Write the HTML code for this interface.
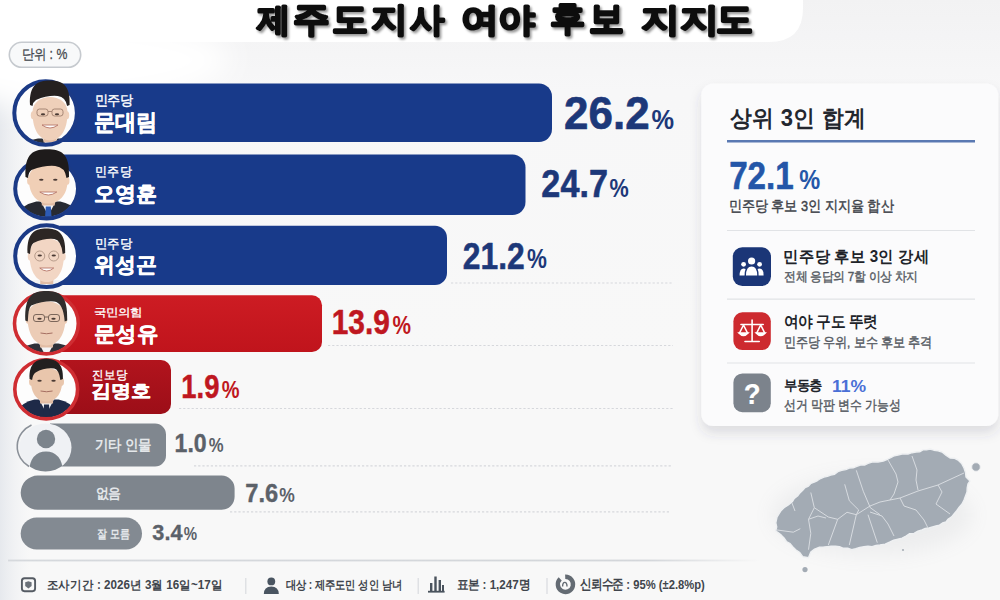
<!DOCTYPE html>
<html><head><meta charset="utf-8">
<style>
*{margin:0;padding:0}
html,body{width:1000px;height:600px;overflow:hidden;background:#f2f2f3}
svg{position:absolute;left:0;top:0;font-family:"Liberation Sans",sans-serif}
</style></head><body>
<svg width="1000" height="600" viewBox="0 0 1000 600">
<defs>
 <linearGradient id="bgv" x1="0" y1="0" x2="0" y2="1">
  <stop offset="0" stop-color="#f2f2f3"/>
  <stop offset="0.15" stop-color="#f7f7f8"/>
  <stop offset="0.6" stop-color="#f8f8f8"/>
  <stop offset="1" stop-color="#f8f8f8"/>
 </linearGradient>
 <linearGradient id="bgl" x1="0" y1="0" x2="1" y2="0">
  <stop offset="0" stop-color="#e4e7ec" stop-opacity="0.9"/>
  <stop offset="0.03" stop-color="#eef0f3" stop-opacity="0"/>
 </linearGradient>
 <radialGradient id="topw" cx="0.5" cy="0" r="0.5">
  <stop offset="0" stop-color="#fff"/>
  <stop offset="0.75" stop-color="#fff"/>
  <stop offset="1" stop-color="#fff" stop-opacity="0"/>
 </radialGradient>
 <filter id="tsh" x="-30%" y="-30%" width="160%" height="160%">
  <feDropShadow dx="1.8" dy="2.2" stdDeviation="0.8" flood-color="#000" flood-opacity="0.4"/>
 </filter>
 <filter id="csh" x="-10%" y="-10%" width="120%" height="125%">
  <feDropShadow dx="0" dy="7" stdDeviation="6" flood-color="#3c4660" flood-opacity="0.15"/>
 </filter>
 <filter id="wblur" x="-50%" y="-100%" width="200%" height="300%"><feGaussianBlur stdDeviation="14"/></filter>
 <filter id="mblur" x="-50%" y="-50%" width="200%" height="200%"><feGaussianBlur stdDeviation="10"/></filter>
 <filter id="msh" x="-20%" y="-20%" width="140%" height="160%">
  <feDropShadow dx="0" dy="6" stdDeviation="5" flood-color="#5a6270" flood-opacity="0.18"/>
 </filter>
 <linearGradient id="gr4" x1="0" y1="0" x2="0" y2="1"><stop offset="0" stop-color="#cd1c23"/><stop offset="1" stop-color="#c0141c"/></linearGradient>
 <linearGradient id="gr5" x1="0" y1="0" x2="0" y2="1"><stop offset="0" stop-color="#b2141d"/><stop offset="1" stop-color="#9c0e18"/></linearGradient>
 <clipPath id="c1"><circle cx="45.6" cy="113" r="30"/></clipPath>
 <clipPath id="c2"><circle cx="46" cy="188.5" r="29.5"/></clipPath>
 <clipPath id="c3"><circle cx="46.2" cy="257" r="29.5"/></clipPath>
 <clipPath id="c4"><circle cx="46.3" cy="323.8" r="29"/></clipPath>
 <clipPath id="c5"><circle cx="46.3" cy="388.6" r="28"/></clipPath>
 <clipPath id="c6"><circle cx="45.5" cy="447.2" r="23.5"/></clipPath>
</defs>

<!-- background -->
<rect x="0" y="0" width="1000" height="600" fill="url(#bgv)"/>
<rect x="0" y="0" width="1000" height="600" fill="url(#bgl)"/>
<ellipse cx="40" cy="60" rx="190" ry="45" fill="#fff" filter="url(#wblur)"/>
<path d="M-10 -10 H803 V8 Q803 42 769 42 H-10 Z" fill="#ffffff"/>

<!-- unit pill -->
<rect x="9.3" y="42.3" width="71.4" height="25" rx="12.5" fill="#f8f9fa" stroke="#c6cacf" stroke-width="1.6"/>

<!-- dashed lines -->
<g stroke="#d6d8dc" stroke-width="1.2" stroke-dasharray="2.2 2">
 <line x1="451" y1="283" x2="673" y2="283"/>
 <line x1="328" y1="345.5" x2="673" y2="345.5"/>
 <line x1="179" y1="408.5" x2="673" y2="408.5"/>
 <line x1="194" y1="465.8" x2="671" y2="465.8"/>
 <line x1="230" y1="511.8" x2="671" y2="511.8"/>
</g>

<!-- bars -->
<path d="M60 83.5 H539 a13 13 0 0 1 13 13 V129 a13 13 0 0 1 -13 13 H60 Z" fill="#183a8a"/>
<path d="M60 154.5 H512.5 a13 13 0 0 1 13 13 V202 a13 13 0 0 1 -13 13 H60 Z" fill="#183a8a"/>
<path d="M60 225.7 H435 a12 12 0 0 1 12 12 V273 a12 12 0 0 1 -12 12 H60 Z" fill="#183a8a"/>
<path d="M60 295.3 H312 a10 10 0 0 1 10 10 V342 a10 10 0 0 1 -10 10 H60 Z" fill="url(#gr4)"/>
<path d="M60 360 H161 a10 10 0 0 1 10 10 V404 a10 10 0 0 1 -10 10 H60 Z" fill="url(#gr5)"/>
<path d="M50 423.5 H155 a11 11 0 0 1 11 11 V455.4 a11 11 0 0 1 -11 11 H50 Z" fill="#80878f"/>
<path d="M37.8 475.6 H221.6 a13 13 0 0 1 13 13 V496.8 a13 13 0 0 1 -13 13 H37.8 a17.1 17.1 0 0 1 0 -34.2 Z" fill="#7e858d"/>
<rect x="20.7" y="517.5" width="121.3" height="32" rx="16" fill="#838a92"/>

<!-- avatars -->
<clipPath id="av1"><ellipse cx="45.6" cy="113" rx="29.799999999999997" ry="30.299999999999997"/></clipPath>
<ellipse cx="45.6" cy="113" rx="30.299999999999997" ry="30.799999999999997" fill="#fdfdfd"/>
<g clip-path="url(#av1)">
<path d="M16.0 146.8 Q20.0 142.5 38.0 138.5 L62.0 138.5 Q80.0 142.5 84.0 146.8 Z" fill="#2b2e36"/>
<path d="M42.0 137.5 L50.0 152.5 L58.0 137.5 Z" fill="#f4f4f6"/>
<rect x="43.5" y="128.5" width="13" height="14" fill="#e2bda5"/>
<path d="M32.5 112.37 C32.5 92 67.5 92 67.5 112.37 C67.5 132.74 58.75 140.5 50.0 140.5 C41.25 140.5 32.5 132.74 32.5 112.37 Z" fill="#efd0ba"/>
<ellipse cx="33.0" cy="115.25" rx="2.2" ry="4" fill="#efd0ba"/><ellipse cx="67.0" cy="115.25" rx="2.2" ry="4" fill="#efd0ba"/>
<g fill="none" stroke="#9e7f6e" stroke-width="0.9"><rect x="37.0" y="109.0" width="11" height="7" rx="2.5"/><rect x="52.0" y="109.0" width="11" height="7" rx="2.5"/><line x1="48.0" y1="111.5" x2="52.0" y2="111.5"/></g>
<g fill="#4a3a34"><ellipse cx="43.0" cy="114.25" rx="2.2" ry="0.9"/><ellipse cx="57.0" cy="114.25" rx="2.2" ry="0.9"/></g>
<path d="M42.0 125 Q50.0 131 58.0 125 Z" fill="#fff" stroke="#b7776a" stroke-width="0.9"/>
</g>
<ellipse cx="45.6" cy="113" rx="31.299999999999997" ry="31.799999999999997" fill="none" stroke="#1b3a86" stroke-width="4"/>
<path d="M30 105 C29 84.5 38 80.5 49.8 80.5 C61.599999999999994 80.5 70.6 84.5 69.6 105 L67.1 106 Q65.6 97 57.8 96 Q47.8 95 36 100 Q33 102 32.5 106 Z" fill="#252120"/>
<clipPath id="av2"><ellipse cx="46.6" cy="188.7" rx="29.9" ry="28.3"/></clipPath>
<ellipse cx="46.6" cy="188.7" rx="30.4" ry="28.8" fill="#fdfdfd"/>
<g clip-path="url(#av2)">
<path d="M14.299999999999997 220.5 Q18.299999999999997 205.5 36.3 201.5 L60.3 201.5 Q78.3 205.5 82.3 220.5 Z" fill="#272a32"/>
<path d="M40.3 200.5 L48.3 215.5 L56.3 200.5 Z" fill="#f4f4f6"/>
<path d="M45.8 206.5 L50.8 206.5 L51.8 220.5 L44.8 220.5 Z" fill="#2d5bb5"/>
<rect x="41.8" y="191.5" width="13" height="14" fill="#e2bda5"/>
<path d="M28.8 178.27 C28.8 160 67.8 160 67.8 178.27 C67.8 196.54000000000002 58.05 203.5 48.3 203.5 C38.55 203.5 28.8 196.54000000000002 28.8 178.27 Z" fill="#f0cfb6"/>
<ellipse cx="29.3" cy="180.75" rx="2.2" ry="4" fill="#f0cfb6"/><ellipse cx="67.3" cy="180.75" rx="2.2" ry="4" fill="#f0cfb6"/>
<g fill="#4a3a34"><ellipse cx="41.3" cy="179.75" rx="2.2" ry="0.9"/><ellipse cx="55.3" cy="179.75" rx="2.2" ry="0.9"/></g>
<path d="M39.8 192 Q48.3 198 56.8 192 Z" fill="#fff" stroke="#b7776a" stroke-width="0.9"/>
</g>
<ellipse cx="46.6" cy="188.7" rx="31.4" ry="29.8" fill="none" stroke="#1b3a86" stroke-width="4"/>
<path d="M25.5 177 C24.5 153.3 33.5 149.3 47.25 149.3 C61 149.3 70 153.3 69 177 L66.5 178 Q65 167 55.25 166 Q45.25 165 31.5 170 Q28.5 172 28.0 178 Z" fill="#1e1b1b"/>
<clipPath id="av3"><ellipse cx="46.6" cy="256.2" rx="29.9" ry="29.4"/></clipPath>
<ellipse cx="46.6" cy="256.2" rx="30.4" ry="29.9" fill="#fdfdfd"/>
<g clip-path="url(#av3)">
<path d="M12.75 289.09999999999997 Q16.75 284 34.75 280 L58.75 280 Q76.75 284 80.75 289.09999999999997 Z" fill="#f2f2f3"/>
<rect x="40.25" y="270" width="13" height="14" fill="#e2bda5"/>
<path d="M29.5 253.57999999999998 C29.5 233 64 233 64 253.57999999999998 C64 274.15999999999997 55.375 282 46.75 282 C38.125 282 29.5 274.15999999999997 29.5 253.57999999999998 Z" fill="#f2d6c4"/>
<ellipse cx="30.0" cy="256.5" rx="2.2" ry="4" fill="#f2d6c4"/><ellipse cx="63.5" cy="256.5" rx="2.2" ry="4" fill="#f2d6c4"/>
<g fill="none" stroke="#b09585" stroke-width="0.9"><circle cx="39.75" cy="256" r="5"/><circle cx="53.75" cy="256" r="5"/></g>
<g fill="#4a3a34"><ellipse cx="39.75" cy="255.5" rx="2.2" ry="0.9"/><ellipse cx="53.75" cy="255.5" rx="2.2" ry="0.9"/></g>
<path d="M39.75 268 Q46.75 274 53.75 268 Z" fill="#fff" stroke="#b7776a" stroke-width="0.9"/>
</g>
<ellipse cx="46.6" cy="256.2" rx="31.4" ry="30.9" fill="none" stroke="#1b3a86" stroke-width="4"/>
<path d="M27.5 253 C26.5 232.4 35.5 228.4 46.35 228.4 C57.2 228.4 66.2 232.4 65.2 253 L62.7 254 Q61.2 240 54.35 239 Q44.35 238 33.5 243 Q30.5 245 30.0 254 Z" fill="#2c2624"/>
<clipPath id="av4"><ellipse cx="46.4" cy="323.5" rx="30.6" ry="29.1"/></clipPath>
<ellipse cx="46.4" cy="323.5" rx="31.1" ry="29.6" fill="#fdfdfd"/>
<g clip-path="url(#av4)">
<path d="M12.5 356.1 Q16.5 347.5 34.5 343.5 L58.5 343.5 Q76.5 347.5 80.5 356.1 Z" fill="#2f3139"/>
<path d="M38.5 342.5 L46.5 357.5 L54.5 342.5 Z" fill="#f4f4f6"/>
<rect x="40.0" y="333.5" width="13" height="14" fill="#e2bda5"/>
<path d="M27.5 316.79 C27.5 296 65.5 296 65.5 316.79 C65.5 337.58000000000004 56.0 345.5 46.5 345.5 C37.0 345.5 27.5 337.58000000000004 27.5 316.79 Z" fill="#ecccb6"/>
<ellipse cx="28.0" cy="319.75" rx="2.2" ry="4" fill="#ecccb6"/><ellipse cx="65.0" cy="319.75" rx="2.2" ry="4" fill="#ecccb6"/>
<g fill="none" stroke="#6f5b50" stroke-width="0.9"><rect x="33.5" y="314.5" width="11" height="7" rx="2.5"/><rect x="48.5" y="314.5" width="11" height="7" rx="2.5"/><line x1="44.5" y1="317" x2="48.5" y2="317"/></g>
<g fill="#4a3a34"><ellipse cx="39.5" cy="318.75" rx="2.2" ry="0.9"/><ellipse cx="53.5" cy="318.75" rx="2.2" ry="0.9"/></g>
<path d="M40.5 333 Q46.5 334.5 52.5 333" fill="none" stroke="#a56f62" stroke-width="1"/>
</g>
<ellipse cx="46.4" cy="323.5" rx="31.900000000000002" ry="30.400000000000002" fill="none" stroke="#cf2d32" stroke-width="3.6"/>
<path d="M25.3 320.5 C24.3 295 33.3 291 46.25 291 C59.2 291 68.2 295 67.2 320.5 L64.7 321.5 Q63.2 302.5 54.25 301.5 Q44.25 300.5 31.3 305.5 Q28.3 307.5 27.8 321.5 Z" fill="#302d2c"/>
<clipPath id="av5"><ellipse cx="46.2" cy="389.3" rx="30.1" ry="28.299999999999997"/></clipPath>
<ellipse cx="46.2" cy="389.3" rx="30.6" ry="28.799999999999997" fill="#fdfdfd"/>
<g clip-path="url(#av5)">
<path d="M12.549999999999997 421.1 Q16.549999999999997 403.5 34.55 399.5 L58.55 399.5 Q76.55 403.5 80.55 421.1 Z" fill="#1e2a48"/>
<path d="M38.55 398.5 L46.55 413.5 L54.55 398.5 Z" fill="#f4f4f6"/>
<path d="M44.05 404.5 L49.05 404.5 L50.05 421.1 L43.05 421.1 Z" fill="#1e2a48"/>
<rect x="40.05" y="389.5" width="13" height="14" fill="#e2bda5"/>
<path d="M30.8 379.75 C30.8 364 62.3 364 62.3 379.75 C62.3 395.5 54.425 401.5 46.55 401.5 C38.675 401.5 30.8 395.5 30.8 379.75 Z" fill="#e9c6ac"/>
<ellipse cx="31.3" cy="381.75" rx="2.2" ry="4" fill="#e9c6ac"/><ellipse cx="61.8" cy="381.75" rx="2.2" ry="4" fill="#e9c6ac"/>
<g fill="#4a3a34"><ellipse cx="39.55" cy="380.75" rx="2.2" ry="0.9"/><ellipse cx="53.55" cy="380.75" rx="2.2" ry="0.9"/></g>
<path d="M40.55 391 Q46.55 392.5 52.55 391" fill="none" stroke="#a56f62" stroke-width="1"/>
</g>
<ellipse cx="46.2" cy="389.3" rx="31.400000000000002" ry="29.599999999999998" fill="none" stroke="#cf2d32" stroke-width="3.6"/>
<path d="M29.6 379 C28.6 362.8 37.6 358.8 46.25 358.8 C54.9 358.8 63.9 362.8 62.9 379 L60.4 380 Q58.9 369.5 54.25 368.5 Q44.25 367.5 35.6 372.5 Q32.6 374.5 32.1 380 Z" fill="#222020"/>
<ellipse cx="45.5" cy="447.5" rx="26" ry="24" fill="#eff1f4"/>
<path d="M31.5 425 A26 24 0 0 0 29 466.5" fill="none" stroke="#8b9199" stroke-width="1.6"/>
<clipPath id="av6"><ellipse cx="45.5" cy="447.5" rx="26" ry="24"/></clipPath>
<g clip-path="url(#av6)" fill="#7c848c">
 <circle cx="46" cy="439" r="9.2"/>
 <path d="M28.5 475 Q29.5 451.5 46 451.5 Q62.5 451.5 63.5 475 Z"/>
</g>
<!-- card -->
<rect x="701.3" y="83.5" width="297" height="342.5" rx="12" fill="#fbfbfc" filter="url(#csh)"/>
<line x1="727" y1="141.3" x2="975" y2="141.3" stroke="#5a79b2" stroke-width="2.4"/>
<g stroke="#e1e3e6" stroke-width="1.2">
 <line x1="727" y1="230.5" x2="975" y2="230.5"/>
 <line x1="727" y1="299.2" x2="975" y2="299.2"/>
 <line x1="727" y1="363" x2="975" y2="363"/>
</g>
<rect x="732.8" y="247.2" width="38.2" height="38.8" rx="9.5" fill="#1b3677"/>
<g fill="#fff">
 <circle cx="751.6" cy="261" r="3.6"/>
 <circle cx="743.6" cy="264.3" r="2.4"/>
 <circle cx="759.6" cy="264.3" r="2.4"/>
 <path d="M746 275.6 Q746 266.6 751.6 266.6 Q757.2 266.6 757.2 275.6 Z"/>
 <path d="M739.6 275.6 Q739.6 268.4 743.6 268.4 Q745 268.4 745.6 269 Q744.6 271 744.6 275.6 Z"/>
 <path d="M763.6 275.6 Q763.6 268.4 759.6 268.4 Q758.2 268.4 757.6 269 Q758.6 271 758.6 275.6 Z"/>
</g>
<rect x="733.4" y="312.3" width="37.4" height="37.8" rx="9" fill="#cd2a2f"/>
<g stroke="#fff" stroke-width="1.6" fill="none" stroke-linecap="round">
 <line x1="752.1" y1="320" x2="752.1" y2="341"/>
 <line x1="741" y1="324.5" x2="763.2" y2="324.5"/>
 <line x1="745" y1="341.5" x2="759.2" y2="341.5"/>
 <path d="M743.5 325 L739.5 333 M743.5 325 L747.5 333"/>
 <path d="M760.7 325 L756.7 333 M760.7 325 L764.7 333"/>
 <path d="M739 333 Q743.5 338 748 333 Z" fill="#fff"/>
 <path d="M756.2 333 Q760.7 338 765.2 333 Z" fill="#fff"/>
</g>
<rect x="733.4" y="373.4" width="37.4" height="38.8" rx="9" fill="#7c838c"/>

<!-- map -->
<ellipse cx="872" cy="515" rx="100" ry="40" fill="#8a9099" opacity="0.10" filter="url(#mblur)"/>
<path d="M775.8 522.8 L777.0 517.0 L779.1 513.7 L781.2 510.4 L784.0 507.7 L788.3 505.0 L792.2 501.8 L794.3 498.4 L797.5 496.0 L799.9 492.9 L802.7 490.2 L805.1 487.5 L808.5 486.1 L810.9 483.4 L814.3 482.0 L817.5 480.5 L820.6 478.5 L823.9 477.1 L827.4 476.3 L830.7 475.0 L834.6 474.2 L837.9 471.6 L841.7 470.3 L845.7 469.6 L849.3 468.0 L853.2 467.8 L856.8 466.3 L860.5 465.0 L864.5 465.1 L868.0 463.3 L872.9 461.8 L878.0 462.0 L883.2 461.1 L888.0 459.0 L891.2 457.3 L894.4 455.7 L898.0 455.0 L902.9 453.8 L908.0 454.0 L911.9 452.7 L916.0 452.0 L919.6 451.8 L922.9 449.9 L926.5 449.9 L930.0 449.0 L933.9 450.2 L938.1 450.8 L942.0 452.0 L945.9 455.1 L950.0 458.0 L954.2 458.2 L958.0 460.0 L961.6 463.5 L964.0 468.0 L965.5 472.4 L966.0 477.0 L970.0 481.0 L968.0 484.0 L967.2 488.0 L967.0 492.0 L965.5 496.1 L964.0 500.1 L962.0 504.0 L959.2 507.2 L956.7 510.7 L954.0 514.0 L951.6 516.9 L948.3 519.0 L946.0 522.0 L942.5 523.0 L939.5 525.1 L936.0 526.0 L932.5 526.9 L929.0 528.0 L925.3 528.4 L922.0 530.0 L917.9 531.1 L914.1 533.4 L909.7 533.7 L906.0 536.0 L902.2 538.1 L898.1 539.1 L893.8 540.1 L890.0 542.0 L885.2 544.1 L880.0 545.0 L876.0 545.4 L872.1 546.6 L868.0 546.2 L863.9 546.8 L859.8 547.5 L855.7 548.7 L851.7 549.7 L847.7 548.2 L843.4 548.3 L839.5 546.7 L835.3 546.2 L831.2 546.3 L827.1 546.6 L823.1 547.1 L819.0 547.3 L814.6 549.1 L810.8 552.0 L808.5 557.8 L802.7 556.7 L799.8 552.6 L795.7 549.7 L792.7 546.8 L790.1 543.6 L786.4 541.5 L784.0 538.0 L781.5 535.4 L778.7 533.1 L775.8 531.0 L776.7 526.9 Z" fill="#a3abb4" stroke="#eef0f2" stroke-width="1.4" stroke-linejoin="round"/>
<circle cx="976" cy="467" r="4.3" fill="#a3abb4" stroke="#eef0f2" stroke-width="1"/>
<circle cx="805" cy="569.6" r="2.6" fill="#a3abb4"/>
<circle cx="903" cy="550" r="1.1" fill="#a9b0b7"/>
<path d="M810.8 492.5 L814.3 507.7 L808.5 519.3 L810.8 533.3 L808.5 549.7 M814.3 507.7 L828.3 517 L837.7 519.3 L847 512.3 L856.3 514.7 L870 506 L880 502 L890 500 L900 498 L918 491 L938 485 L964 473 M808.5 519.3 L818 516 L826 518 M837.7 519.3 L828.3 545 M844.7 484.3 L849.3 500.7 L858.7 510 L856.3 514.7 M856.3 470.3 L863.3 491.3 L870.3 507.7 L880 514.7 M856.3 514.7 L849.3 545 M868 514.7 L877.3 542.7 M775.8 529.8 L793.3 532.2 L800.3 528.7 M888 460 L896 474 L898 482 L894 494 L890 500 M912 456 L917 470 L916 480 L918 490 M938 485 L942 492 L936 504 L950 514 M900 498 L904 506 L916 510 L924 520 L928 528 M870 512 L882 516 L888 524 L894 536 M792 503 L795 511" fill="none" stroke="#dde0e4" stroke-width="0.9" stroke-linejoin="round"/>
<!-- footer -->
<rect x="8" y="559.6" width="752" height="1.8" fill="url(#fl)"/>
<defs><linearGradient id="fl" x1="0" y1="0" x2="1" y2="0"><stop offset="0" stop-color="#d6d9dd"/><stop offset="0.85" stop-color="#d3d6da"/><stop offset="1" stop-color="#d3d6da" stop-opacity="0"/></linearGradient></defs>
<g stroke="#d9dbdf" stroke-width="1.2">
 <line x1="245.8" y1="578" x2="245.8" y2="594"/>
 <line x1="418.2" y1="578" x2="418.2" y2="594"/>
 <line x1="547" y1="578" x2="547" y2="594"/>
</g>
<rect x="21.9" y="578.3" width="13.2" height="12.9" rx="2.6" fill="none" stroke="#555b63" stroke-width="1.9"/>
<path d="M25.2 582.3 L28.4 581.2 L31.6 582.3 L31.6 586 L28.4 588.4 L25.2 586 Z" fill="#6b7179"/>
<g fill="#4a5561">
 <circle cx="271.3" cy="581.4" r="3.9"/>
 <path d="M263.8 594 Q264 586.5 271.3 586.5 Q278.6 586.5 278.8 594 Z"/>
</g>
<g fill="#4a535d">
 <rect x="428" y="590.8" width="16.6" height="1.8"/>
 <rect x="430" y="583" width="2.4" height="8"/>
 <rect x="434.3" y="576.5" width="2.4" height="14.5"/>
 <rect x="438.6" y="580" width="2.4" height="11"/>
 <rect x="442" y="585" width="2" height="6"/>
</g>
<path d="M560.2 578.9 A7.6 7.6 0 1 0 565.2 576.8" fill="none" stroke="#646b73" stroke-width="4.4"/>
<path d="M562.6 586.6 Q562.6 582.4 564.8 582.4 Q567 582.4 567 586.6" fill="none" stroke="#646b73" stroke-width="1.4"/>

<g filter="url(#tsh)"><g transform="translate(256.95 30.67) scale(0.3368 0.3333)"><text x="0" y="0" font-size="100" font-weight="bold" fill="#111" stroke="#111" stroke-width="7" stroke-linejoin="round">제</text></g></g>
<g filter="url(#tsh)"><g transform="translate(293.27 30.89) scale(0.3646 0.3479)"><text x="0" y="0" font-size="100" font-weight="bold" fill="#111" stroke="#111" stroke-width="7" stroke-linejoin="round">주</text></g></g>
<g filter="url(#tsh)"><g transform="translate(332.47 30.80) scale(0.3646 0.3550)"><text x="0" y="0" font-size="100" font-weight="bold" fill="#111" stroke="#111" stroke-width="7" stroke-linejoin="round">도</text></g></g>
<g filter="url(#tsh)"><g transform="translate(371.23 31.07) scale(0.3663 0.3384)"><text x="0" y="0" font-size="100" font-weight="bold" fill="#111" stroke="#111" stroke-width="7" stroke-linejoin="round">지</text></g></g>
<g filter="url(#tsh)"><g transform="translate(409.94 31.22) scale(0.3442 0.3303)"><text x="0" y="0" font-size="100" font-weight="bold" fill="#111" stroke="#111" stroke-width="7" stroke-linejoin="round">사</text></g></g>
<g filter="url(#tsh)"><g transform="translate(460.88 31.22) scale(0.3791 0.3303)"><text x="0" y="0" font-size="100" font-weight="bold" fill="#111" stroke="#111" stroke-width="7" stroke-linejoin="round">여</text></g></g>
<g filter="url(#tsh)"><g transform="translate(497.72 31.22) scale(0.3697 0.3303)"><text x="0" y="0" font-size="100" font-weight="bold" fill="#111" stroke="#111" stroke-width="7" stroke-linejoin="round">야</text></g></g>
<g filter="url(#tsh)"><g transform="translate(550.19 29.96) scale(0.3563 0.3444)"><text x="0" y="0" font-size="100" font-weight="bold" fill="#111" stroke="#111" stroke-width="7" stroke-linejoin="round">후</text></g></g>
<g filter="url(#tsh)"><g transform="translate(589.30 30.75) scale(0.3500 0.3610)"><text x="0" y="0" font-size="100" font-weight="bold" fill="#111" stroke="#111" stroke-width="7" stroke-linejoin="round">보</text></g></g>
<g filter="url(#tsh)"><g transform="translate(640.61 30.71) scale(0.3899 0.3308)"><text x="0" y="0" font-size="100" font-weight="bold" fill="#111" stroke="#111" stroke-width="7" stroke-linejoin="round">지</text></g></g>
<g filter="url(#tsh)"><g transform="translate(679.61 30.71) scale(0.3910 0.3308)"><text x="0" y="0" font-size="100" font-weight="bold" fill="#111" stroke="#111" stroke-width="7" stroke-linejoin="round">지</text></g></g>
<g filter="url(#tsh)"><g transform="translate(715.96 30.85) scale(0.3708 0.3500)"><text x="0" y="0" font-size="100" font-weight="bold" fill="#111" stroke="#111" stroke-width="7" stroke-linejoin="round">도</text></g></g>
<g transform="translate(21.78 58.94) scale(0.1222 0.1374)"><text x="0" y="0" font-size="100" font-weight="normal" fill="#45494f" stroke="#45494f" stroke-width="2" stroke-linejoin="round">단위 : %</text></g>
<g transform="translate(94.51 105.31) scale(0.1291 0.1370)"><text x="0" y="0" font-size="100" font-weight="normal" fill="#ffffff" stroke="#ffffff" stroke-width="3" stroke-linejoin="round">민주당</text></g>
<g transform="translate(93.94 129.76) scale(0.2113 0.2302)"><text x="0" y="0" font-size="100" font-weight="bold" fill="#ffffff" stroke="#ffffff" stroke-width="2.5" stroke-linejoin="round">문대림</text></g>
<g transform="translate(94.75 176.24) scale(0.1246 0.1348)"><text x="0" y="0" font-size="100" font-weight="normal" fill="#ffffff" stroke="#ffffff" stroke-width="3" stroke-linejoin="round">민주당</text></g>
<g transform="translate(93.95 201.42) scale(0.2103 0.2105)"><text x="0" y="0" font-size="100" font-weight="bold" fill="#ffffff" stroke="#ffffff" stroke-width="2.5" stroke-linejoin="round">오영훈</text></g>
<g transform="translate(94.75 247.91) scale(0.1246 0.1304)"><text x="0" y="0" font-size="100" font-weight="normal" fill="#ffffff" stroke="#ffffff" stroke-width="3" stroke-linejoin="round">민주당</text></g>
<g transform="translate(94.37 272.42) scale(0.2089 0.2105)"><text x="0" y="0" font-size="100" font-weight="bold" fill="#ffffff" stroke="#ffffff" stroke-width="2.5" stroke-linejoin="round">위성곤</text></g>
<g transform="translate(94.48 316.41) scale(0.1197 0.1054)"><text x="0" y="0" font-size="100" font-weight="normal" fill="#ffffff" stroke="#ffffff" stroke-width="3" stroke-linejoin="round">국민의힘</text></g>
<g transform="translate(94.16 340.71) scale(0.2090 0.2053)"><text x="0" y="0" font-size="100" font-weight="bold" fill="#ffffff" stroke="#ffffff" stroke-width="2.5" stroke-linejoin="round">문성유</text></g>
<g transform="translate(92.43 379.09) scale(0.1143 0.1196)"><text x="0" y="0" font-size="100" font-weight="normal" fill="#ffffff" stroke="#ffffff" stroke-width="3" stroke-linejoin="round">진보당</text></g>
<g transform="translate(91.38 397.22) scale(0.2038 0.1823)"><text x="0" y="0" font-size="100" font-weight="bold" fill="#ffffff" stroke="#ffffff" stroke-width="2.5" stroke-linejoin="round">김명호</text></g>
<g transform="translate(95.14 450.43) scale(0.1324 0.1478)"><text x="0" y="0" font-size="100" font-weight="bold" fill="#e4e7ea" >기타 인물</text></g>
<g transform="translate(95.81 498.44) scale(0.1278 0.1387)"><text x="0" y="0" font-size="100" font-weight="bold" fill="#e4e7ea" >없음</text></g>
<g transform="translate(97.18 537.68) scale(0.1035 0.1247)"><text x="0" y="0" font-size="100" font-weight="bold" fill="#e4e7ea" >잘 모름</text></g>
<g transform="translate(564.08 128.79) scale(0.4394 0.4548)"><text x="0" y="0" font-size="100" font-weight="bold" fill="#1d3879" stroke="#1d3879" stroke-width="1.5" stroke-linejoin="round">26.2</text></g>
<g transform="translate(651.49 128.73) scale(0.2536 0.2746)"><text x="0" y="0" font-size="100" font-weight="bold" fill="#1d3879" stroke="#1d3879" stroke-width="0.1">%</text></g>
<g transform="translate(541.37 197.30) scale(0.3420 0.3972)"><text x="0" y="0" font-size="100" font-weight="bold" fill="#1d3879" stroke="#1d3879" stroke-width="1.5" stroke-linejoin="round">24.7</text></g>
<g transform="translate(609.57 196.74) scale(0.2167 0.2648)"><text x="0" y="0" font-size="100" font-weight="bold" fill="#1d3879" stroke="#1d3879" stroke-width="0.1">%</text></g>
<g transform="translate(462.75 268.63) scale(0.3181 0.3694)"><text x="0" y="0" font-size="100" font-weight="bold" fill="#1d3879" stroke="#1d3879" stroke-width="1.5" stroke-linejoin="round">21.2</text></g>
<g transform="translate(526.95 268.13) scale(0.2238 0.2732)"><text x="0" y="0" font-size="100" font-weight="bold" fill="#1d3879" stroke="#1d3879" stroke-width="0.1">%</text></g>
<g transform="translate(331.71 334.30) scale(0.2984 0.3493)"><text x="0" y="0" font-size="100" font-weight="bold" fill="#bf1720" stroke="#bf1720" stroke-width="1.5" stroke-linejoin="round">13.9</text></g>
<g transform="translate(392.58 334.25) scale(0.2083 0.2535)"><text x="0" y="0" font-size="100" font-weight="bold" fill="#bf1720" stroke="#bf1720" stroke-width="0.1">%</text></g>
<g transform="translate(181.36 397.55) scale(0.2738 0.3233)"><text x="0" y="0" font-size="100" font-weight="bold" fill="#bf1720" stroke="#bf1720" stroke-width="1.5" stroke-linejoin="round">1.9</text></g>
<g transform="translate(221.80 397.56) scale(0.2000 0.2366)"><text x="0" y="0" font-size="100" font-weight="bold" fill="#bf1720" stroke="#bf1720" stroke-width="0.1">%</text></g>
<g transform="translate(174.62 451.50) scale(0.2308 0.2507)"><text x="0" y="0" font-size="100" font-weight="bold" fill="#5b6169" stroke="#5b6169" stroke-width="1.5" stroke-linejoin="round">1.0</text></g>
<g transform="translate(208.67 451.50) scale(0.1667 0.2028)"><text x="0" y="0" font-size="100" font-weight="bold" fill="#5b6169" stroke="#5b6169" stroke-width="0.1">%</text></g>
<g transform="translate(245.35 501.80) scale(0.2364 0.2507)"><text x="0" y="0" font-size="100" font-weight="bold" fill="#5b6169" stroke="#5b6169" stroke-width="1.5" stroke-linejoin="round">7.6</text></g>
<g transform="translate(279.25 501.79) scale(0.1750 0.2113)"><text x="0" y="0" font-size="100" font-weight="bold" fill="#5b6169" stroke="#5b6169" stroke-width="0.1">%</text></g>
<g transform="translate(152.37 539.96) scale(0.2168 0.2178)"><text x="0" y="0" font-size="100" font-weight="bold" fill="#5b6169" stroke="#5b6169" stroke-width="1.5" stroke-linejoin="round">3.4</text></g>
<g transform="translate(183.70 540.22) scale(0.1500 0.1817)"><text x="0" y="0" font-size="100" font-weight="bold" fill="#5b6169" stroke="#5b6169" stroke-width="0.1">%</text></g>
<g transform="translate(729.96 126.45) scale(0.2201 0.2323)"><text x="0" y="0" font-size="100" font-weight="bold" fill="#23272f" >상위 3인 합계</text></g>
<g transform="translate(729.17 188.61) scale(0.3317 0.3889)"><text x="0" y="0" font-size="100" font-weight="bold" fill="#2456a8" stroke="#2456a8" stroke-width="1.5" stroke-linejoin="round">72.1</text></g>
<g transform="translate(799.33 188.72) scale(0.2357 0.2775)"><text x="0" y="0" font-size="100" font-weight="bold" fill="#2456a8" stroke="#2456a8" stroke-width="0.1">%</text></g>
<g transform="translate(728.63 210.93) scale(0.1275 0.1452)"><text x="0" y="0" font-size="100" font-weight="normal" fill="#3f434a" stroke="#3f434a" stroke-width="3" stroke-linejoin="round">민주당 후보 3인 지지율 합산</text></g>
<g transform="translate(783.29 261.56) scale(0.1513 0.1587)"><text x="0" y="0" font-size="100" font-weight="bold" fill="#202329" >민주당 후보 3인 강세</text></g>
<g transform="translate(784.21 280.81) scale(0.1171 0.1290)"><text x="0" y="0" font-size="100" font-weight="normal" fill="#555a62" stroke="#555a62" stroke-width="3" stroke-linejoin="round">전체 응답의 7할 이상 차지</text></g>
<g transform="translate(783.80 327.31) scale(0.1428 0.1554)"><text x="0" y="0" font-size="100" font-weight="bold" fill="#202329" >여야 구도 뚜렷</text></g>
<g transform="translate(783.62 346.80) scale(0.1175 0.1355)"><text x="0" y="0" font-size="100" font-weight="normal" fill="#555a62" stroke="#555a62" stroke-width="3" stroke-linejoin="round">민주당 우위, 보수 후보 추격</text></g>
<g transform="translate(784.01 390.11) scale(0.1313 0.1370)"><text x="0" y="0" font-size="100" font-weight="bold" fill="#202329" >부동층</text></g>
<g transform="translate(832.05 392.13) scale(0.1753 0.1657)"><text x="0" y="0" font-size="100" font-weight="bold" fill="#4a6fd6" >11%</text></g>
<g transform="translate(784.45 409.90) scale(0.1151 0.1355)"><text x="0" y="0" font-size="100" font-weight="normal" fill="#555a62" stroke="#555a62" stroke-width="3" stroke-linejoin="round">선거 막판 변수 가능성</text></g>
<g transform="translate(743.69 403.50) scale(0.2769 0.3000)"><text x="0" y="0" font-size="100" font-weight="bold" fill="#ffffff" stroke="#ffffff" stroke-width="0.5">?</text></g>
<g transform="translate(46.70 588.85) scale(0.1166 0.1217)"><text x="0" y="0" font-size="100" font-weight="bold" fill="#40454c" >조사기간 : 2026년 3월 16일~17일</text></g>
<g transform="translate(285.79 588.75) scale(0.1030 0.1204)"><text x="0" y="0" font-size="100" font-weight="bold" fill="#40454c" >대상 : 제주도민 성인 남녀</text></g>
<g transform="translate(456.70 589.43) scale(0.1161 0.1293)"><text x="0" y="0" font-size="100" font-weight="bold" fill="#40454c" >표본 : 1,247명</text></g>
<g transform="translate(580.06 589.14) scale(0.1122 0.1361)"><text x="0" y="0" font-size="100" font-weight="bold" fill="#40454c" >신뢰수준 : 95% (±2.8%p)</text></g>
</svg>
</body></html>
